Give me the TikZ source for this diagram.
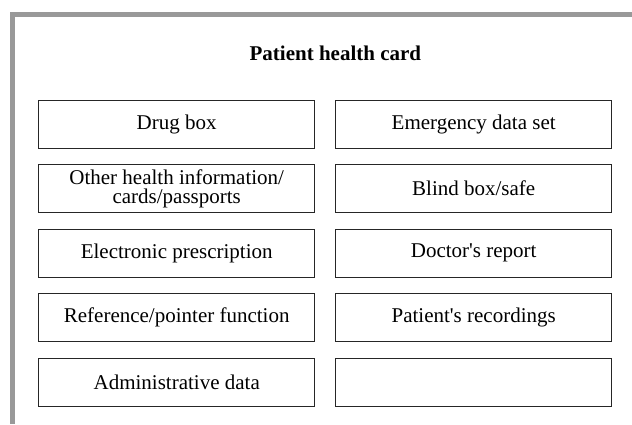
\documentclass[tikz,border=0pt]{standalone}
\usepackage{fontspec}
\setmainfont{Liberation Serif}
\usepackage{tikz}
\usetikzlibrary{positioning}

\begin{document}
\begin{tikzpicture}[node distance=32.3pt and 148.5pt,on grid,semithick]
\tikzstyle{part} = [rectangle,draw=black!85,line width=0.5pt,minimum width=137.75pt,minimum height=24pt,inner sep=0pt,align=center,font=\fontsize{10.5pt}{9.4pt}\selectfont]
\tikzstyle{cardframe} = [draw=black!40,line width=2.25pt]
\useasboundingbox (0,0) rectangle (316pt,-212pt);
    \node[font=\bfseries\fontsize{10.5pt}{12pt}\selectfont] (title) at (167.7pt,-26.8pt) {Patient health card};
    % left column
    \node[part] (drug) at (88.35pt,-62pt) {Drug box};
    \node[part] (other) [below =of drug] {Other health information/\\cards/passports};
    \node[part] (prescr) [below =of other] {Electronic prescription};
    \node[part] (pointer) [below =of prescr] {Reference/pointer function};
    \node[part] (admin) [below =of pointer] {Administrative data};
    % right column
    \node[part] (emergency) [right =of drug] {Emergency data set};
    \node[part] (safe) [right =of other] {Blind box/safe};
    \node[part] (doctor) [right =of prescr] {Doctor\textquotesingle s report};
    \node[part] (recordings) [right =of pointer] {Patient\textquotesingle s recordings};
    \node[part] (spare) [right =of admin] {};

    \coordinate (corner) at (6.25pt,-7.25pt);
    \draw[cardframe] (316pt,-7.25pt) -- (corner) -- (6.25pt,-212pt);
\end{tikzpicture}
\end{document}
